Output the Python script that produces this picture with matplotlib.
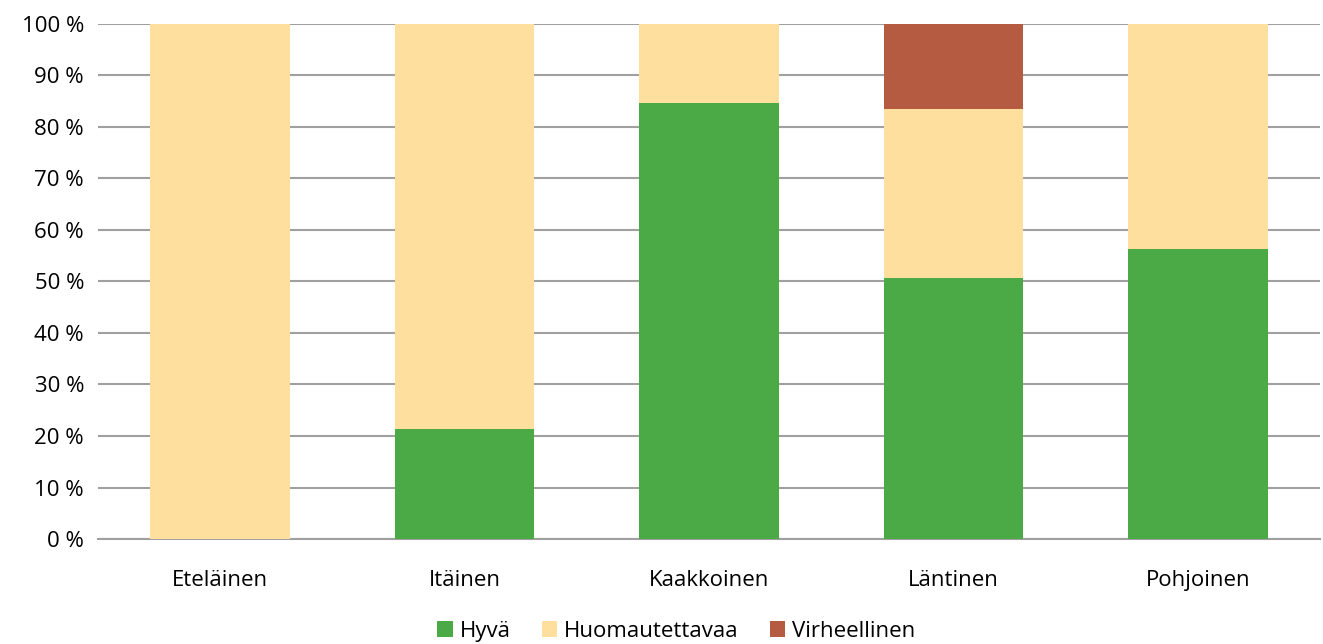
import matplotlib
matplotlib.use("Agg")
import matplotlib.pyplot as plt
import numpy as np

# data
alueet = ["Eteläinen", "Itäinen", "Kaakkoinen", "Läntinen", "Pohjoinen"]
hyva = [0.0, 21.4, 84.6, 50.6, 56.25]
huomautettavaa = [100.0, 78.6, 15.4, 32.9, 43.75]
virheellinen = [0.0, 0.0, 0.0, 16.5, 0.0]
y_ticks = [0, 10, 20, 30, 40, 50, 60, 70, 80, 90, 100]

plt.rcParams['font.family'] = ['Open Sans', 'DejaVu Sans']

fig = plt.figure(figsize=(13.23, 6.44), dpi=100)
ax = fig.add_axes([0.074, 0.163, 0.924, 0.80])

x = np.arange(len(alueet))
w = 0.57
hyva = np.array(hyva)
huom = np.array(huomautettavaa)
virh = np.array(virheellinen)

ax.bar(x, hyva, w, color="#4BA946", label="Hyvä", zorder=3)
ax.bar(x, huom, w, bottom=hyva, color="#FEDF9E", label="Huomautettavaa", zorder=3)
ax.bar(x, virh, w, bottom=hyva + huom, color="#B45B42", label="Virheellinen", zorder=3)

fs = 16
ax.set_xlim(-0.5, len(alueet) - 0.5)
ax.set_ylim(0, 100)
ax.set_yticks(y_ticks)
ax.set_yticklabels([f"{v} %" for v in y_ticks], fontsize=fs)
ax.set_xticks(x)
ax.set_xticklabels(alueet, fontsize=fs)
ax.tick_params(length=0, pad=10)
ax.tick_params(axis='x', pad=22)
ax.yaxis.grid(True, color="#A0A0A0", linewidth=1.5, zorder=0)
for s in ["top", "right", "left"]:
    ax.spines[s].set_visible(False)
ax.spines["bottom"].set_color("#A0A0A0")
ax.spines["bottom"].set_linewidth(1.5)

ax.legend(loc="upper center", bbox_to_anchor=(0.473, -0.12), ncol=3, frameon=False,
          fontsize=fs, handlelength=0.7, handleheight=0.7, handletextpad=0.3,
          columnspacing=1.4)

fig.savefig("out.png", dpi=100)
